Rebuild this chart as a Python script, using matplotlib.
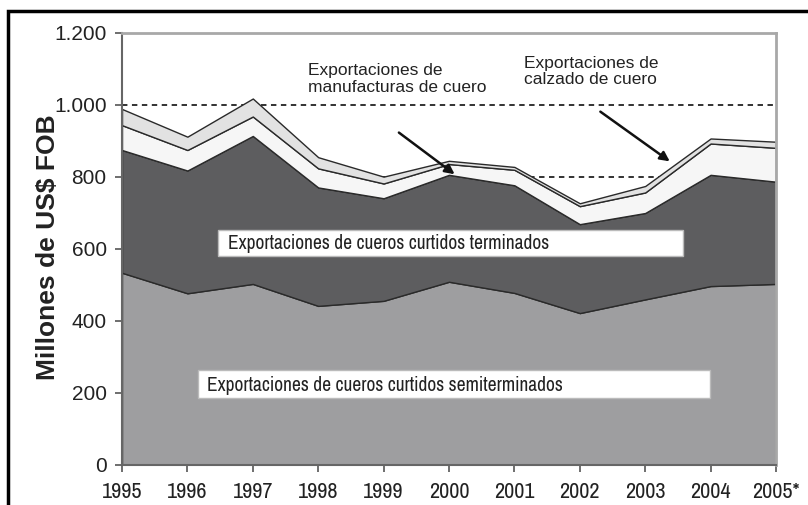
import numpy as np
import matplotlib.pyplot as plt
from matplotlib.patches import Rectangle

plt.rcParams['font.family'] = ['Liberation Sans', 'DejaVu Sans']
narrow = ['Archivo Narrow', 'DejaVu Sans']

years = ['1995', '1996', '1997', '1998', '1999', '2000', '2001', '2002', '2003', '2004', '2005*']
# millones de US$ FOB
semiterminados = [534, 477, 503, 442, 456, 509, 478, 422, 460, 497, 503]
terminados = [341, 341, 411, 329, 285, 297, 299, 247, 240, 309, 284]
manufacturas = [69, 57, 54, 53, 41, 30, 43, 50, 57, 87, 94]
calzado = [45, 37, 50, 31, 19, 9, 8, 8, 18, 14, 17]

x = np.arange(len(years))

fig = plt.figure(figsize=(8.08, 5.05), dpi=100)
ax = fig.add_axes([122/808, 1-465/505, (776-122)/808, (465-33)/505])

ax.set_axisbelow(True)
ax.yaxis.grid(True, linestyle=(0, (3, 2.5)), color='#222222', linewidth=1.3)

ax.stackplot(x, semiterminados, terminados, manufacturas, calzado,
             colors=['#9e9ea0', '#5d5d5f', '#f6f6f6', '#e2e2e2'],
             edgecolor='#2a2a2a', linewidth=1.0)

ax.set_xlim(0, 10)
ax.set_ylim(0, 1200)
ax.set_xticks(x)
ax.set_xticklabels(years, fontsize=16, family=narrow, color='#222222')
ax.set_yticks(range(0, 1201, 200))
ax.set_yticklabels(['0', '200', '400', '600', '800', '1.000', '1.200'], fontsize=15, color='#222222')
ax.tick_params(axis='both', direction='out', length=5, color='#555555', width=1.2)
ax.tick_params(axis='y', pad=6)
ax.tick_params(axis='x', pad=7)

for s in ['left', 'bottom']:
    ax.spines[s].set_color('#666666')
    ax.spines[s].set_linewidth(1.5)
for s in ['top', 'right']:
    ax.spines[s].set_color('#a8a8a8')
    ax.spines[s].set_linewidth(2)

fig.text(48/808, 0.51, 'Millones de US$ FOB', rotation=90, ha='center', va='center',
         fontsize=19, fontweight='bold', color='#222222')

# cajas de texto
ax.add_patch(Rectangle((1.47, 580), 7.11, 72, facecolor='white', edgecolor='#bbbbbb', lw=1, zorder=3))
ax.text(1.62, 614, 'Exportaciones de cueros curtidos terminados', fontsize=14, family=narrow,
        va='center', ha='left', color='#222222', zorder=4)
ax.add_patch(Rectangle((1.16, 186), 7.83, 77, facecolor='white', edgecolor='#bbbbbb', lw=1, zorder=3))
ax.text(1.30, 222, 'Exportaciones de cueros curtidos semiterminados', fontsize=14, family=narrow,
        va='center', ha='left', color='#222222', zorder=4)

# anotaciones con flecha
ax.annotate('', xy=(5.12, 803), xytext=(4.2, 928),
            arrowprops=dict(arrowstyle='-|>', color='#111111', lw=1.8, mutation_scale=14))
ax.text(2.84, 1072, 'Exportaciones de\nmanufacturas de cuero', fontsize=12.5,
        va='center', ha='left', color='#222222', linespacing=1.15)
ax.annotate('', xy=(8.41, 839), xytext=(7.28, 986),
            arrowprops=dict(arrowstyle='-|>', color='#111111', lw=1.8, mutation_scale=14))
ax.text(6.15, 1093, 'Exportaciones de\ncalzado de cuero', fontsize=12.5,
        va='center', ha='left', color='#222222', linespacing=1.15)

# marco exterior
fig.patches.append(Rectangle((8/808, -0.1), 1.2, 1.1 - 11/505, transform=fig.transFigure,
                             fill=False, edgecolor='black', linewidth=2.5))

fig.savefig('out.png', dpi=100)
